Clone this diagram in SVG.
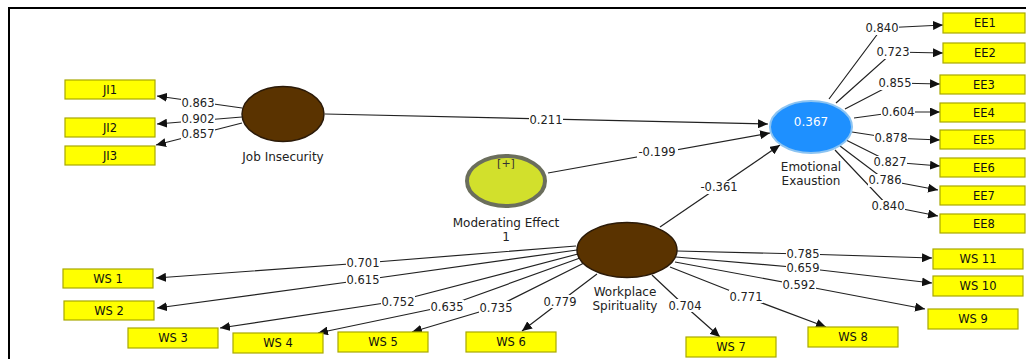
<svg xmlns="http://www.w3.org/2000/svg" width="1026" height="359" viewBox="0 0 1026 359">
<defs>
<marker id="ah" markerUnits="userSpaceOnUse" markerWidth="11" markerHeight="9" refX="10" refY="4.5" orient="auto">
<path d="M0,0 L10,4.5 L0,9 z" fill="#111"/>
</marker>
<style>
.ind rect{fill:#ffff00;stroke:#a8a800;stroke-width:1.2}
.ind text{font-family:"DejaVu Sans",sans-serif;font-size:11.5px;fill:#111;text-anchor:middle}
.lat{font-family:"DejaVu Sans",sans-serif;font-size:12px;fill:#222;text-anchor:middle}
.c path{fill:none;stroke:#222;stroke-width:1.2;marker-end:url(#ah)}
.c rect{fill:#fff}
.c text{font-family:"DejaVu Sans",sans-serif;font-size:11.5px;fill:#222;text-anchor:middle}
.brown{fill:#5a3300;stroke:#2b1a08;stroke-width:1.5}
</style>
</defs>
<rect width="1026" height="359" fill="#fff"/>
<path d="M9,359 L9,8 L1026,8" fill="none" stroke="#000" stroke-width="2"/>

<g id="connectors" class="c">
<path d="M242,108 L157,96"/>
<path d="M242,117 L157,124"/>
<path d="M242,123 L156,145"/>
<path d="M325,114 L768,124"/>
<path d="M548,173 L770,133"/>
<path d="M660,227 L780,145"/>
<path d="M829,99 L882,28 L943,25"/>
<path d="M836,103 L893,52 L943,53"/>
<path d="M845,109 L895,83 L940,84"/>
<path d="M854,118 L898,112 L940,112"/>
<path d="M852,132 L891,138 L940,140"/>
<path d="M846,140 L890,162 L940,166"/>
<path d="M840,146 L885,180 L938,190"/>
<path d="M835,150 L888,206 L938,216"/>
<path d="M576,246 L363,263 L156,278"/>
<path d="M577,250 L363,280 L157,308"/>
<path d="M578,254 L398,301 L220,328"/>
<path d="M580,258 L447,306 L318,333"/>
<path d="M584,263 L496,307 L412,332"/>
<path d="M597,274 L560,302 L522,331"/>
<path d="M652,275 L685,306 L720,337"/>
<path d="M670,267 L746,297 L826,327"/>
<path d="M675,262 L799,285 L925,309"/>
<path d="M676,257 L803,268 L932,283"/>
<path d="M677,251 L803,254 L932,258"/>

<rect x="181" y="96" width="34" height="13"/><text x="198" y="107">0.863</text>
<rect x="181" y="113" width="34" height="12"/><text x="198" y="123">0.902</text>
<rect x="181" y="128" width="34" height="12"/><text x="198" y="138">0.857</text>
<rect x="529" y="114" width="34" height="13"/><text x="546" y="124">0.211</text>
<rect x="637" y="146" width="41" height="13"/><text x="657" y="156">-0.199</text>
<rect x="699" y="181" width="41" height="13"/><text x="719" y="191">-0.361</text>

<rect x="865" y="22" width="34" height="13"/><text x="882" y="32">0.840</text>
<rect x="876" y="46" width="34" height="13"/><text x="893" y="56">0.723</text>
<rect x="878" y="77" width="34" height="13"/><text x="895" y="87">0.855</text>
<rect x="881" y="106" width="34" height="13"/><text x="898" y="116">0.604</text>
<rect x="874" y="132" width="34" height="13"/><text x="891" y="142">0.878</text>
<rect x="873" y="156" width="34" height="13"/><text x="890" y="166">0.827</text>
<rect x="868" y="174" width="34" height="13"/><text x="885" y="184">0.786</text>
<rect x="871" y="200" width="34" height="13"/><text x="888" y="210">0.840</text>

<rect x="346" y="257" width="34" height="12"/><text x="363" y="267">0.701</text>
<rect x="346" y="274" width="34" height="12"/><text x="363" y="284">0.615</text>
<rect x="381" y="296" width="34" height="13"/><text x="398" y="306">0.752</text>
<rect x="430" y="300" width="34" height="13"/><text x="447" y="311">0.635</text>
<rect x="479" y="301" width="34" height="13"/><text x="496" y="312">0.735</text>
<rect x="543" y="295" width="34" height="13"/><text x="560" y="306">0.779</text>
<rect x="668" y="299" width="34" height="13"/><text x="685" y="310">0.704</text>
<rect x="729" y="290" width="34" height="13"/><text x="746" y="301">0.771</text>
<rect x="782" y="279" width="34" height="12"/><text x="799" y="289">0.592</text>
<rect x="786" y="262" width="34" height="12"/><text x="803" y="272">0.659</text>
<rect x="786" y="248" width="34" height="12"/><text x="803" y="258">0.785</text>
</g>

<g id="job-insecurity">
<ellipse cx="283" cy="114" rx="41" ry="27.5" class="brown"/>
<text class="lat" x="283" y="161">Job Insecurity</text>
</g>
<g id="moderating-effect">
<ellipse cx="506" cy="181" rx="39" ry="25" fill="#d2e02c" stroke="#6b6e5c" stroke-width="4"/>
<text x="506" y="167" font-family="DejaVu Sans, sans-serif" font-size="11" fill="#333" text-anchor="middle">[+]</text>
<text class="lat" x="506" y="227">Moderating Effect</text>
<text class="lat" x="506" y="241">1</text>
</g>
<g id="emotional-exhaustion">
<ellipse cx="811" cy="127" rx="41" ry="26" fill="#1e90ff" stroke="#8cc4f2" stroke-width="2"/>
<text x="811" y="126" font-family="DejaVu Sans, sans-serif" font-size="12" fill="#fff" text-anchor="middle">0.367</text>
<text class="lat" x="811" y="171">Emotional</text>
<text class="lat" x="811" y="185">Exaustion</text>
</g>
<g id="workplace-spirituality">
<ellipse cx="627" cy="250" rx="50" ry="27.5" class="brown"/>
<text class="lat" x="625" y="296">Workplace</text>
<text class="lat" x="625" y="310">Spirituality</text>
</g>

<g id="JI1" class="ind"><rect x="65" y="80" width="90" height="19"/><text x="110" y="94">JI1</text></g>
<g id="JI2" class="ind"><rect x="65" y="118" width="90" height="19"/><text x="110" y="132">JI2</text></g>
<g id="JI3" class="ind"><rect x="65" y="146" width="90" height="19"/><text x="110" y="160">JI3</text></g>

<g id="EE1" class="ind"><rect x="943" y="13" width="82" height="20"/><text x="985" y="27">EE1</text></g>
<g id="EE2" class="ind"><rect x="943" y="43" width="82" height="20"/><text x="985" y="57">EE2</text></g>
<g id="EE3" class="ind"><rect x="940" y="75" width="85" height="19"/><text x="984" y="89">EE3</text></g>
<g id="EE4" class="ind"><rect x="940" y="103" width="85" height="19"/><text x="984" y="117">EE4</text></g>
<g id="EE5" class="ind"><rect x="940" y="130" width="85" height="19"/><text x="984" y="144">EE5</text></g>
<g id="EE6" class="ind"><rect x="940" y="158" width="85" height="19"/><text x="984" y="172">EE6</text></g>
<g id="EE7" class="ind"><rect x="940" y="186" width="85" height="19"/><text x="984" y="200">EE7</text></g>
<g id="EE8" class="ind"><rect x="940" y="214" width="85" height="19"/><text x="984" y="228">EE8</text></g>

<g id="WS1" class="ind"><rect x="63" y="269" width="90" height="19"/><text x="108" y="283">WS 1</text></g>
<g id="WS2" class="ind"><rect x="64" y="301" width="90" height="19"/><text x="109" y="315">WS 2</text></g>
<g id="WS3" class="ind"><rect x="128" y="328" width="90" height="20"/><text x="173" y="342">WS 3</text></g>
<g id="WS4" class="ind"><rect x="233" y="333" width="90" height="20"/><text x="278" y="347">WS 4</text></g>
<g id="WS5" class="ind"><rect x="338" y="332" width="90" height="20"/><text x="383" y="346">WS 5</text></g>
<g id="WS6" class="ind"><rect x="466" y="332" width="90" height="20"/><text x="511" y="346">WS 6</text></g>
<g id="WS7" class="ind"><rect x="686" y="337" width="90" height="20"/><text x="731" y="351">WS 7</text></g>
<g id="WS8" class="ind"><rect x="808" y="327" width="90" height="20"/><text x="853" y="341">WS 8</text></g>
<g id="WS9" class="ind"><rect x="928" y="309" width="90" height="20"/><text x="973" y="323">WS 9</text></g>
<g id="WS10" class="ind"><rect x="933" y="276" width="90" height="20"/><text x="978" y="290">WS 10</text></g>
<g id="WS11" class="ind"><rect x="933" y="249" width="90" height="20"/><text x="978" y="263">WS 11</text></g>
</svg>
